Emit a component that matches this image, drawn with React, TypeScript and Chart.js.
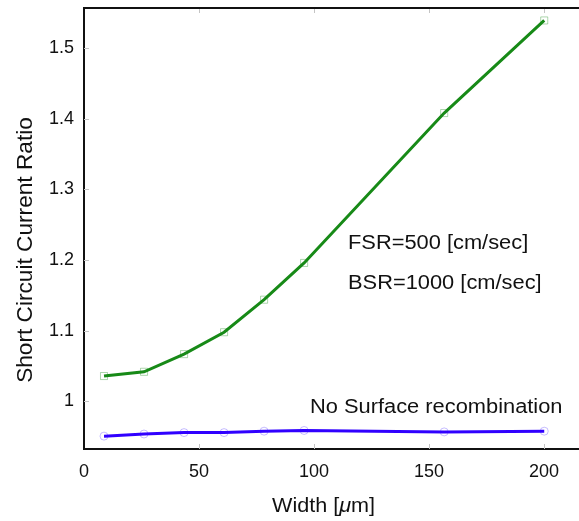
import React, { useEffect, useRef } from "react";
import { Chart, registerables } from "chart.js";

Chart.register(...registerables);

// Cell width in micrometres
const widths = [8.7, 26.1, 43.5, 60.9, 78.3, 95.7, 156.6, 200.1];
// Short circuit current ratio with FSR=500, BSR=1000 cm/sec
const ratioWithRecombination = [1.036, 1.042, 1.067, 1.098, 1.144, 1.196, 1.408, 1.539];
// Short circuit current ratio without surface recombination
const ratioNoRecombination = [0.951, 0.954, 0.956, 0.956, 0.958, 0.959, 0.957, 0.958];

const xTicks = [0, 50, 100, 150, 200];
const xTickLabels = ["0", "50", "100", "150", "200"];
const yTicks = [1, 1.1, 1.2, 1.3, 1.4, 1.5];
const yTickLabels = ["1", "1.1", "1.2", "1.3", "1.4", "1.5"];

const FONT = "'Liberation Sans', Arial, Helvetica, sans-serif";
const GREEN = "#178a17";
const BLUE = "#3000ff";
const INK = "#111111";
const STRETCH = 1.12;

const framePlugin = {
  id: "frame",
  afterDraw(chart: any) {
    const { ctx, chartArea } = chart;
    const { left, right, top, bottom } = chartArea;
    const xs = chart.scales.x;
    const ys = chart.scales.y;

    ctx.save();
    // inward tick marks
    ctx.strokeStyle = "#c4c4c4";
    ctx.lineWidth = 1;
    ctx.beginPath();
    xTicks.forEach((v) => {
      const px = Math.round(xs.getPixelForValue(v)) + 0.5;
      if (v === 0) return;
      ctx.moveTo(px, bottom);
      ctx.lineTo(px, bottom - 5);
      ctx.moveTo(px, top);
      ctx.lineTo(px, top + 5);
    });
    yTicks.forEach((v) => {
      const py = Math.round(ys.getPixelForValue(v)) + 0.5;
      ctx.moveTo(left, py);
      ctx.lineTo(left + 5, py);
    });
    ctx.stroke();

    // top border line
    ctx.strokeStyle = INK;
    ctx.lineWidth = 2;
    ctx.beginPath();
    ctx.moveTo(left - 1, top);
    ctx.lineTo(right, top);
    ctx.stroke();

    ctx.fillStyle = INK;
    ctx.textAlign = "left";
    ctx.textBaseline = "alphabetic";

    const stretched = (text: string, x: number, y: number, size: number) => {
      ctx.save();
      ctx.translate(x, y);
      ctx.scale(STRETCH, 1);
      ctx.font = `${size}px ${FONT}`;
      ctx.fillText(text, 0, 0);
      ctx.restore();
    };

    // annotations
    stretched("FSR=500 [cm/sec]", 348, 249, 19.5);
    stretched("BSR=1000 [cm/sec]", 348, 289, 19.5);
    stretched("No Surface recombination", 310, 412.5, 19.5);

    // y axis title
    ctx.save();
    ctx.translate(32, 250);
    ctx.rotate(-Math.PI / 2);
    ctx.scale(1.03, 1);
    ctx.font = `22px ${FONT}`;
    ctx.textAlign = "center";
    ctx.fillText("Short Circuit Current Ratio", 0, 0);
    ctx.restore();

    // x axis title with italic mu
    ctx.save();
    ctx.translate(272, 512);
    ctx.scale(1.08, 1);
    const parts: [string, string][] = [
      ["Width [", `20px ${FONT}`],
      ["\u03bc", `italic 20px ${FONT}`],
      ["m]", `20px ${FONT}`],
    ];
    let cx = 0;
    parts.forEach(([t, f]) => {
      ctx.font = f;
      ctx.fillText(t, cx, 0);
      cx += ctx.measureText(t).width;
    });
    ctx.restore();

    ctx.restore();
  },
};

export default function App() {
  const canvasRef = useRef<HTMLCanvasElement | null>(null);

  useEffect(() => {
    const canvas = canvasRef.current;
    if (!canvas) return;
    const points = (ys: number[]) => widths.map((w, i) => ({ x: w, y: ys[i] }));

    const chart = new Chart(canvas, {
      type: "line",
      data: {
        datasets: [
          {
            data: points(ratioWithRecombination),
            borderColor: GREEN,
            borderWidth: 3,
            pointRadius: 0,
            fill: false,
            order: 1,
          },
          {
            data: points(ratioNoRecombination),
            borderColor: BLUE,
            borderWidth: 3,
            pointRadius: 0,
            fill: false,
            order: 1,
          },
          {
            data: points(ratioWithRecombination),
            showLine: false,
            pointStyle: "rect",
            pointRadius: 5,
            pointBorderWidth: 1,
            pointBorderColor: "rgba(23,138,23,0.35)",
            pointBackgroundColor: "rgba(0,0,0,0)",
            order: 2,
          },
          {
            data: points(ratioNoRecombination),
            showLine: false,
            pointStyle: "circle",
            pointRadius: 4,
            pointBorderWidth: 1,
            pointBorderColor: "rgba(70,40,255,0.3)",
            pointBackgroundColor: "rgba(0,0,0,0)",
            order: 2,
          },
        ],
      },
      options: {
        animation: false,
        responsive: false,
        devicePixelRatio: 1,
        layout: { padding: { top: 8, right: 4, left: 0, bottom: 0 } },
        plugins: {
          legend: { display: false },
          tooltip: { enabled: false },
        },
        scales: {
          x: {
            type: "linear",
            min: 0,
            max: 220,
            grid: { display: false, drawTicks: false },
            border: { display: true, color: INK, width: 2 },
            afterFit: (scale: any) => {
              scale.height = 72;
              scale.paddingLeft = 0;
              scale.paddingRight = 0;
            },
            afterBuildTicks: (scale: any) => {
              scale.ticks = xTicks.map((v) => ({ value: v }));
            },
            ticks: {
              color: INK,
              font: { family: FONT, size: 18 },
              padding: 12,
              maxRotation: 0,
              autoSkip: false,
              callback: (v: any) => xTickLabels[xTicks.indexOf(Number(v))] ?? "",
            },
          },
          y: {
            type: "linear",
            min: 0.9328,
            max: 1.5566,
            grid: { display: false, drawTicks: false },
            border: { display: true, color: INK, width: 2 },
            afterFit: (scale: any) => {
              scale.width = 84;
              scale.paddingTop = 0;
              scale.paddingBottom = 0;
            },
            afterBuildTicks: (scale: any) => {
              scale.ticks = yTicks.map((v) => ({ value: v }));
            },
            ticks: {
              color: INK,
              font: { family: FONT, size: 18 },
              padding: 10,
              autoSkip: false,
              callback: (v: any) => {
                const i = yTicks.findIndex((t) => Math.abs(t - Number(v)) < 1e-6);
                return i >= 0 ? yTickLabels[i] : "";
              },
            },
          },
        },
      },
      plugins: [framePlugin],
    });

    return () => chart.destroy();
  }, []);

  return (
    <div
      style={{
        position: "fixed",
        left: 0,
        top: 0,
        width: 579,
        height: 521,
        overflow: "hidden",
        background: "#fff",
      }}
    >
      <canvas ref={canvasRef} width={596} height={521} style={{ display: "block" }} />
    </div>
  );
}
